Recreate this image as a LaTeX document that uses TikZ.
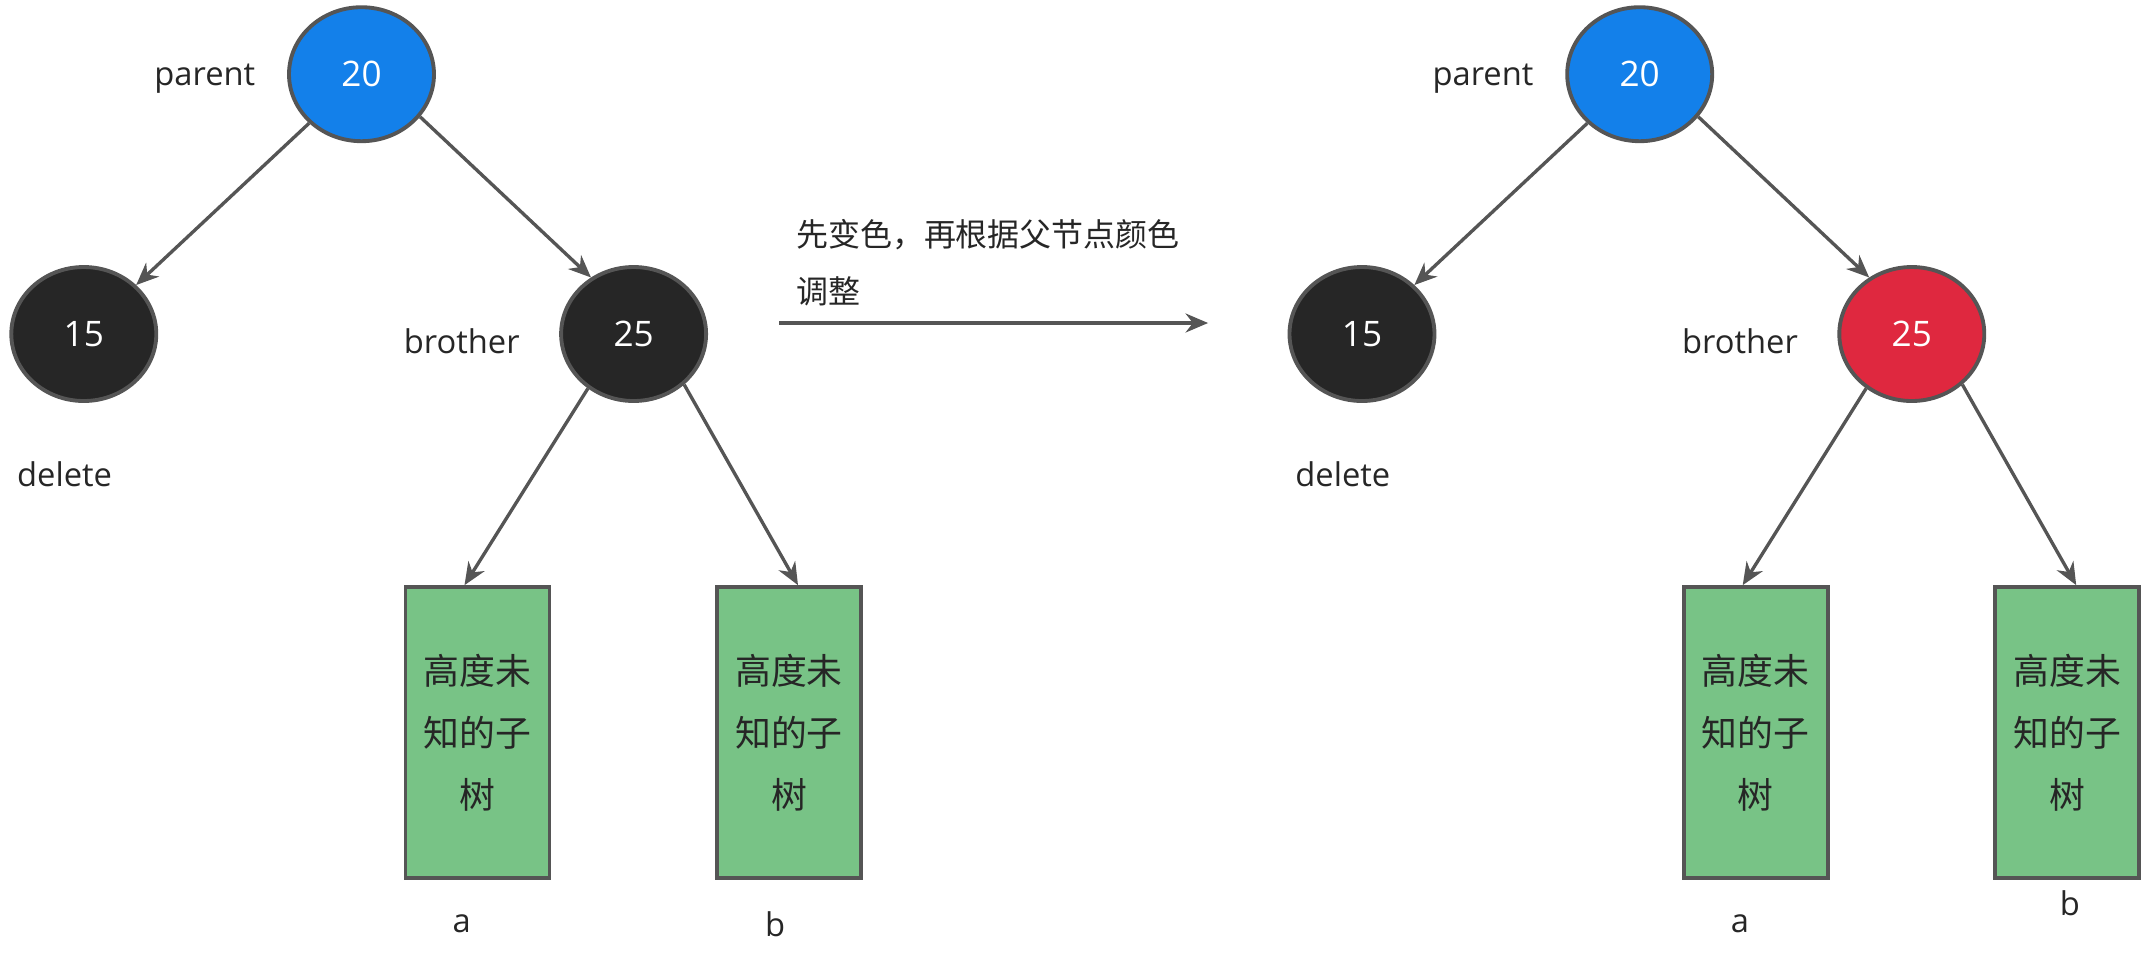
\documentclass[tikz,border=0pt]{standalone}
\usepackage{fontspec}
\setmainfont{Open Sans}
\newfontfamily\cjk{Noto Sans CJK SC}
\usetikzlibrary{arrows.meta, positioning, calc, shapes.geometric}
\definecolor{nodeblue}{HTML}{1380EA}
\definecolor{nodeblack}{HTML}{262626}
\definecolor{nodered}{HTML}{DF283F}
\definecolor{subgreen}{HTML}{78C386}
\definecolor{edgegray}{HTML}{555555}
\definecolor{txtdark}{HTML}{262626}

\begin{document}
\begin{tikzpicture}[>={Stealth[length=6.4pt, width=5.4pt]}, line width=0.95pt,
  rbnode/.style={ellipse, draw=edgegray, line width=1.1pt, minimum width=1.45cm, minimum height=1.34cm, inner sep=0pt, text=white, font=\fontsize{10}{12}\selectfont},
  subtree/.style={rectangle, draw=edgegray, line width=1.1pt, fill=subgreen, minimum width=1.44cm, minimum height=2.91cm, inner sep=0pt, align=center, text=txtdark, font=\cjk\fontsize{10.2}{17.6}\selectfont},
  tag/.style={text=txtdark, font=\fontsize{9.3}{11}\selectfont, inner sep=0pt},
  link/.style={->, draw=edgegray}]

% Canvas
\useasboundingbox (0,0) rectangle (21.55,-9.66);

% ============================================================
% Left tree: before recolouring
% ============================================================
\def\treeLx{0}

\node[rbnode, fill=nodeblue] (pL) at ({\treeLx+3.615},-0.742) {20};
\node[rbnode, fill=nodeblack] (dL) at ({\treeLx+0.838},-3.34) {15};
\node[rbnode, fill=nodeblack] (sL) at ({\treeLx+6.336},-3.34) {25};
\node[subtree] (aL) at ({\treeLx+4.775},-7.326) {高度未\\知的子\\树};
\node[subtree] (bL) at ({\treeLx+7.890},-7.326) {高度未\\知的子\\树};

% Labels
\node[tag] (parentL) at ({\treeLx+2.048},-0.79) {parent};
\node[tag] (brotherL) at ({\treeLx+4.618},-3.409) {brother};
\node[tag] (deleteL) at ({\treeLx+0.646},-4.742) {delete};
\node[tag] (aLabL) at ({\treeLx+4.618},-9.24) {a};
\node[tag] (bLabL) at ({\treeLx+7.752},-9.24) {b};

% Edges
\draw[link] (pL) -- (dL);
\draw[link] (pL.-36) -- (sL.127);
\draw[link] (sL.-130) -- ([xshift=-0.13cm]aL.north);
\draw[link] (sL.-45) -- ([xshift=0.09cm]bL.north);

% ============================================================
% Transition arrow
% ============================================================
\coordinate (arrS) at (7.793,-3.23);
\coordinate (arrE) at (12.081,-3.23);
\draw[link] (arrS) -- (arrE);
\node[text=txtdark, font=\cjk\fontsize{9.1}{16.4}\selectfont, align=left, anchor=west, inner sep=0pt] (stepnote) at (7.944,-2.625) {先变色，再根据父节点颜色\\调整};

% ============================================================
% Right tree: after recolouring
% ============================================================
\def\treeRx{12.782}

\node[rbnode, fill=nodeblue] (pR) at ({\treeRx+3.615},-0.742) {20};
\node[rbnode, fill=nodeblack] (dR) at ({\treeRx+0.838},-3.34) {15};
\node[rbnode, fill=nodered] (sR) at ({\treeRx+6.336},-3.34) {25};
\node[subtree] (aR) at ({\treeRx+4.775},-7.326) {高度未\\知的子\\树};
\node[subtree] (bR) at ({\treeRx+7.890},-7.326) {高度未\\知的子\\树};

% Labels
\node[tag] (parentR) at ({\treeRx+2.048},-0.79) {parent};
\node[tag] (brotherR) at ({\treeRx+4.618},-3.409) {brother};
\node[tag] (deleteR) at ({\treeRx+0.646},-4.742) {delete};
\node[tag] (aLabR) at ({\treeRx+4.618},-9.24) {a};
\node[tag] (bLabR) at (20.698,-9.03) {b};

% Edges
\draw[link] (pR) -- (dR);
\draw[link] (pR.-36) -- (sR.127);
\draw[link] (sR.-130) -- ([xshift=-0.13cm]aR.north);
\draw[link] (sR.-45) -- ([xshift=0.09cm]bR.north);

\end{tikzpicture}
\end{document}
